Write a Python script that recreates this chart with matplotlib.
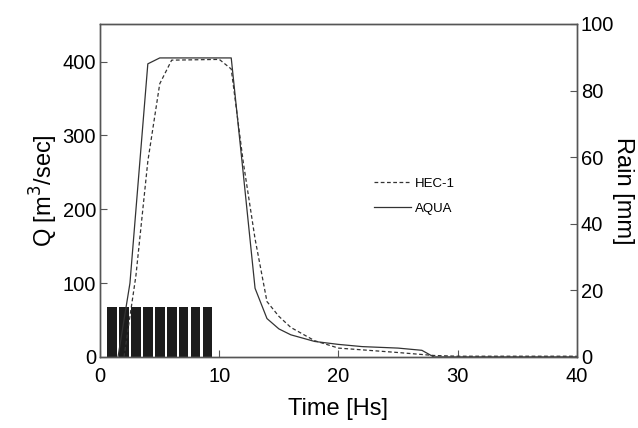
import matplotlib
matplotlib.use('Agg')
import matplotlib.pyplot as plt

plt.rcParams['font.family'] = ['Liberation Sans', 'DejaVu Sans']

# Rainfall (mm), one bar per hour
rain_t = [1, 2, 3, 4, 5, 6, 7, 8, 9]
rain_mm = [15, 15, 15, 15, 15, 15, 15, 15, 15]

# HEC-1 hydrograph (dashed)
hec_t = [2, 3, 4, 5, 6, 10, 11, 12, 13, 14, 15, 16, 18, 20, 25, 28, 30, 40]
hec_q = [0, 110, 265, 370, 402, 403, 390, 265, 160, 75, 55, 40, 22, 12, 6, 2, 1, 1]

# AQUA hydrograph (solid)
aqua_t = [1.5, 2.5, 4, 5, 11, 12, 13, 14, 15, 16, 18, 20, 22, 25, 27, 28, 40]
aqua_q = [0, 100, 397, 405, 405, 250, 93, 52, 38, 30, 21, 17, 14, 12, 9, 0, 0]

fig = plt.figure(figsize=(6.38, 4.28), dpi=100)
ax = fig.add_axes([0.157, 0.166, 0.747, 0.778])
ax2 = ax.twinx()

ax2.bar(rain_t, rain_mm, width=0.82, color='#1c1c1c')
ax2.set_ylim(0, 100)
ax2.set_yticks([0, 20, 40, 60, 80, 100])

ax.plot(hec_t, hec_q, color='#333333', lw=0.9, ls=(0, (3, 2)), label='HEC-1')
ax.plot(aqua_t, aqua_q, color='#333333', lw=0.9, label='AQUA')
ax.set_zorder(ax2.get_zorder() + 1)
ax.patch.set_visible(False)

ax.set_xlim(0, 40)
ax.set_ylim(0, 451)
ax.set_xticks([0, 10, 20, 30, 40])
ax.set_yticks([0, 100, 200, 300, 400])

for a in (ax, ax2):
    a.tick_params(direction='in', labelsize=14.5, length=5, width=0.8, pad=3,
                  colors='#555555', labelcolor='black')
    for s in a.spines.values():
        s.set_color('#555555')
        s.set_linewidth(1.0)
ax.tick_params(axis='x', pad=7)

ax.set_xlabel('Time [Hs]', fontsize=17, labelpad=9)
ax.set_ylabel('Q [m$^3$/sec]', fontsize=17, labelpad=2)
ax2.set_ylabel('Rain [mm]', fontsize=17, rotation=270, va='center')
ax2.yaxis.set_label_coords(1.097, 0.5)

ax.legend(loc='upper left', bbox_to_anchor=(0.55, 0.575), frameon=False,
          fontsize=9.5, handlelength=2.8, handletextpad=0.3, labelspacing=1.0)

fig.savefig('out.png', dpi=100)
